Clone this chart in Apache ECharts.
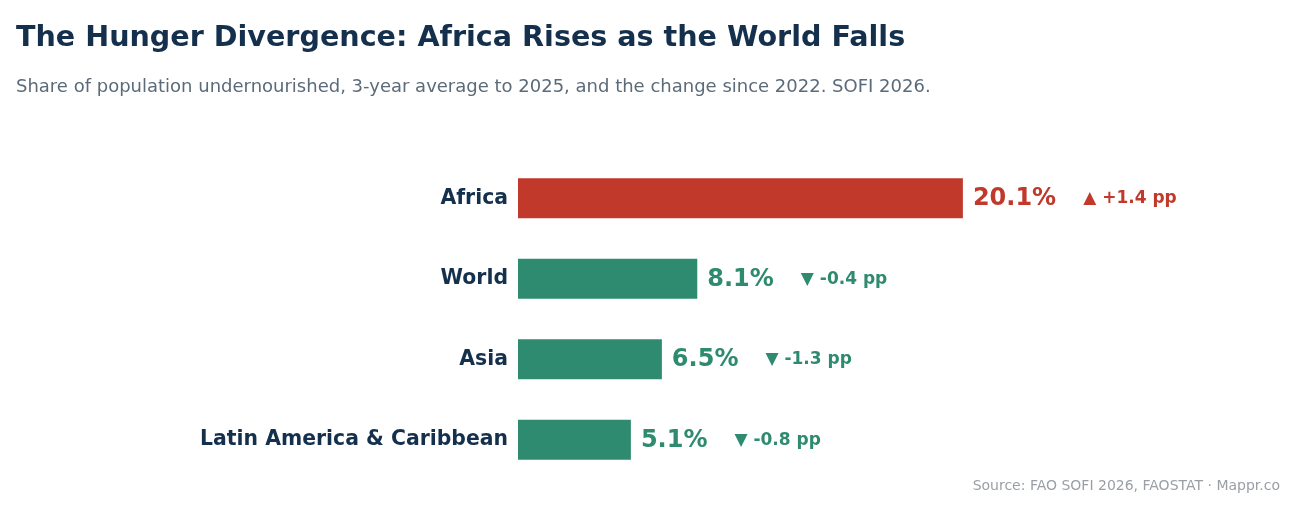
<!DOCTYPE html>
<html>
<head>
<meta charset="utf-8">
<script src="https://cdn.jsdelivr.net/npm/echarts@6/dist/echarts.min.js"></script>
<style>
  html, body { margin: 0; padding: 0; background: #fff; }
  #chart { width: 1300px; height: 520px; }
</style>
</head>
<body>
<div id="chart"></div>
<script>
// data
const regions = ['Africa', 'World', 'Asia', 'Latin America & Caribbean']
const shares = [20.1, 8.1, 6.5, 5.1]      // % undernourished, 3-yr avg to 2025
const changes = [1.4, -0.4, -1.3, -0.8]   // pp change since 2022

const RED = '#c0392b'
const GREEN = '#2e8b6f'
const NAVY = '#14304d'

const chart = echarts.init(document.getElementById('chart'))

const barData = shares.map((v, i) => {
  const col = changes[i] > 0 ? RED : GREEN
  return {
    value: v,
    itemStyle: { color: col },
    label: {
      rich: {
        v: { color: col, fontSize: 24, fontWeight: 'bold', fontFamily: 'DejaVu Sans', padding: [2, 0, 0, 0] },
        c: { color: col, fontSize: 17, fontWeight: 'bold', fontFamily: 'DejaVu Sans', padding: [1, 0, 0, 27] }
      }
    }
  }
})

chart.setOption({
  animation: false,
  backgroundColor: '#fff',
  title: [
    {
      text: 'The Hunger Divergence: Africa Rises as the World Falls',
      left: 11,
      top: 19,
      textStyle: { fontFamily: 'DejaVu Sans', fontSize: 28.6, fontWeight: 'bold', color: NAVY }
    },
    {
      text: 'Share of population undernourished, 3-year average to 2025, and the change since 2022. SOFI 2026.',
      left: 11,
      top: 73,
      textStyle: { fontFamily: 'DejaVu Sans', fontSize: 18, fontWeight: 'normal', color: '#5b6b79' }
    },
    {
      text: 'Source: FAO SOFI 2026, FAOSTAT · Mappr.co',
      right: 15,
      top: 474,
      textStyle: { fontFamily: 'DejaVu Sans', fontSize: 14, fontWeight: 'normal', color: '#9a9fa5' }
    }
  ],
  grid: { left: 518, right: 118, top: 158, bottom: 40 },
  xAxis: {
    type: 'value',
    min: 0,
    max: 30,
    show: false
  },
  yAxis: {
    type: 'category',
    data: regions,
    inverse: true,
    axisLine: { show: false },
    axisTick: { show: false },
    splitLine: { show: false },
    axisLabel: {
      margin: 10,
      fontFamily: 'DejaVu Sans',
      fontSize: 20.4,
      fontWeight: 'bold',
      color: NAVY
    }
  },
  series: [
    {
      type: 'bar',
      barWidth: 40,
      data: barData,
      label: {
        show: true,
        position: 'right',
        distance: 10,
        formatter: (p) => {
          const c = changes[p.dataIndex]
          const arrow = c > 0 ? '▲ +' : '▼ '
          return '{v|' + p.value.toFixed(1) + '%}{c|' + arrow + c.toFixed(1) + ' pp}'
        }
      }
    }
  ]
})
</script>
</body>
</html>
